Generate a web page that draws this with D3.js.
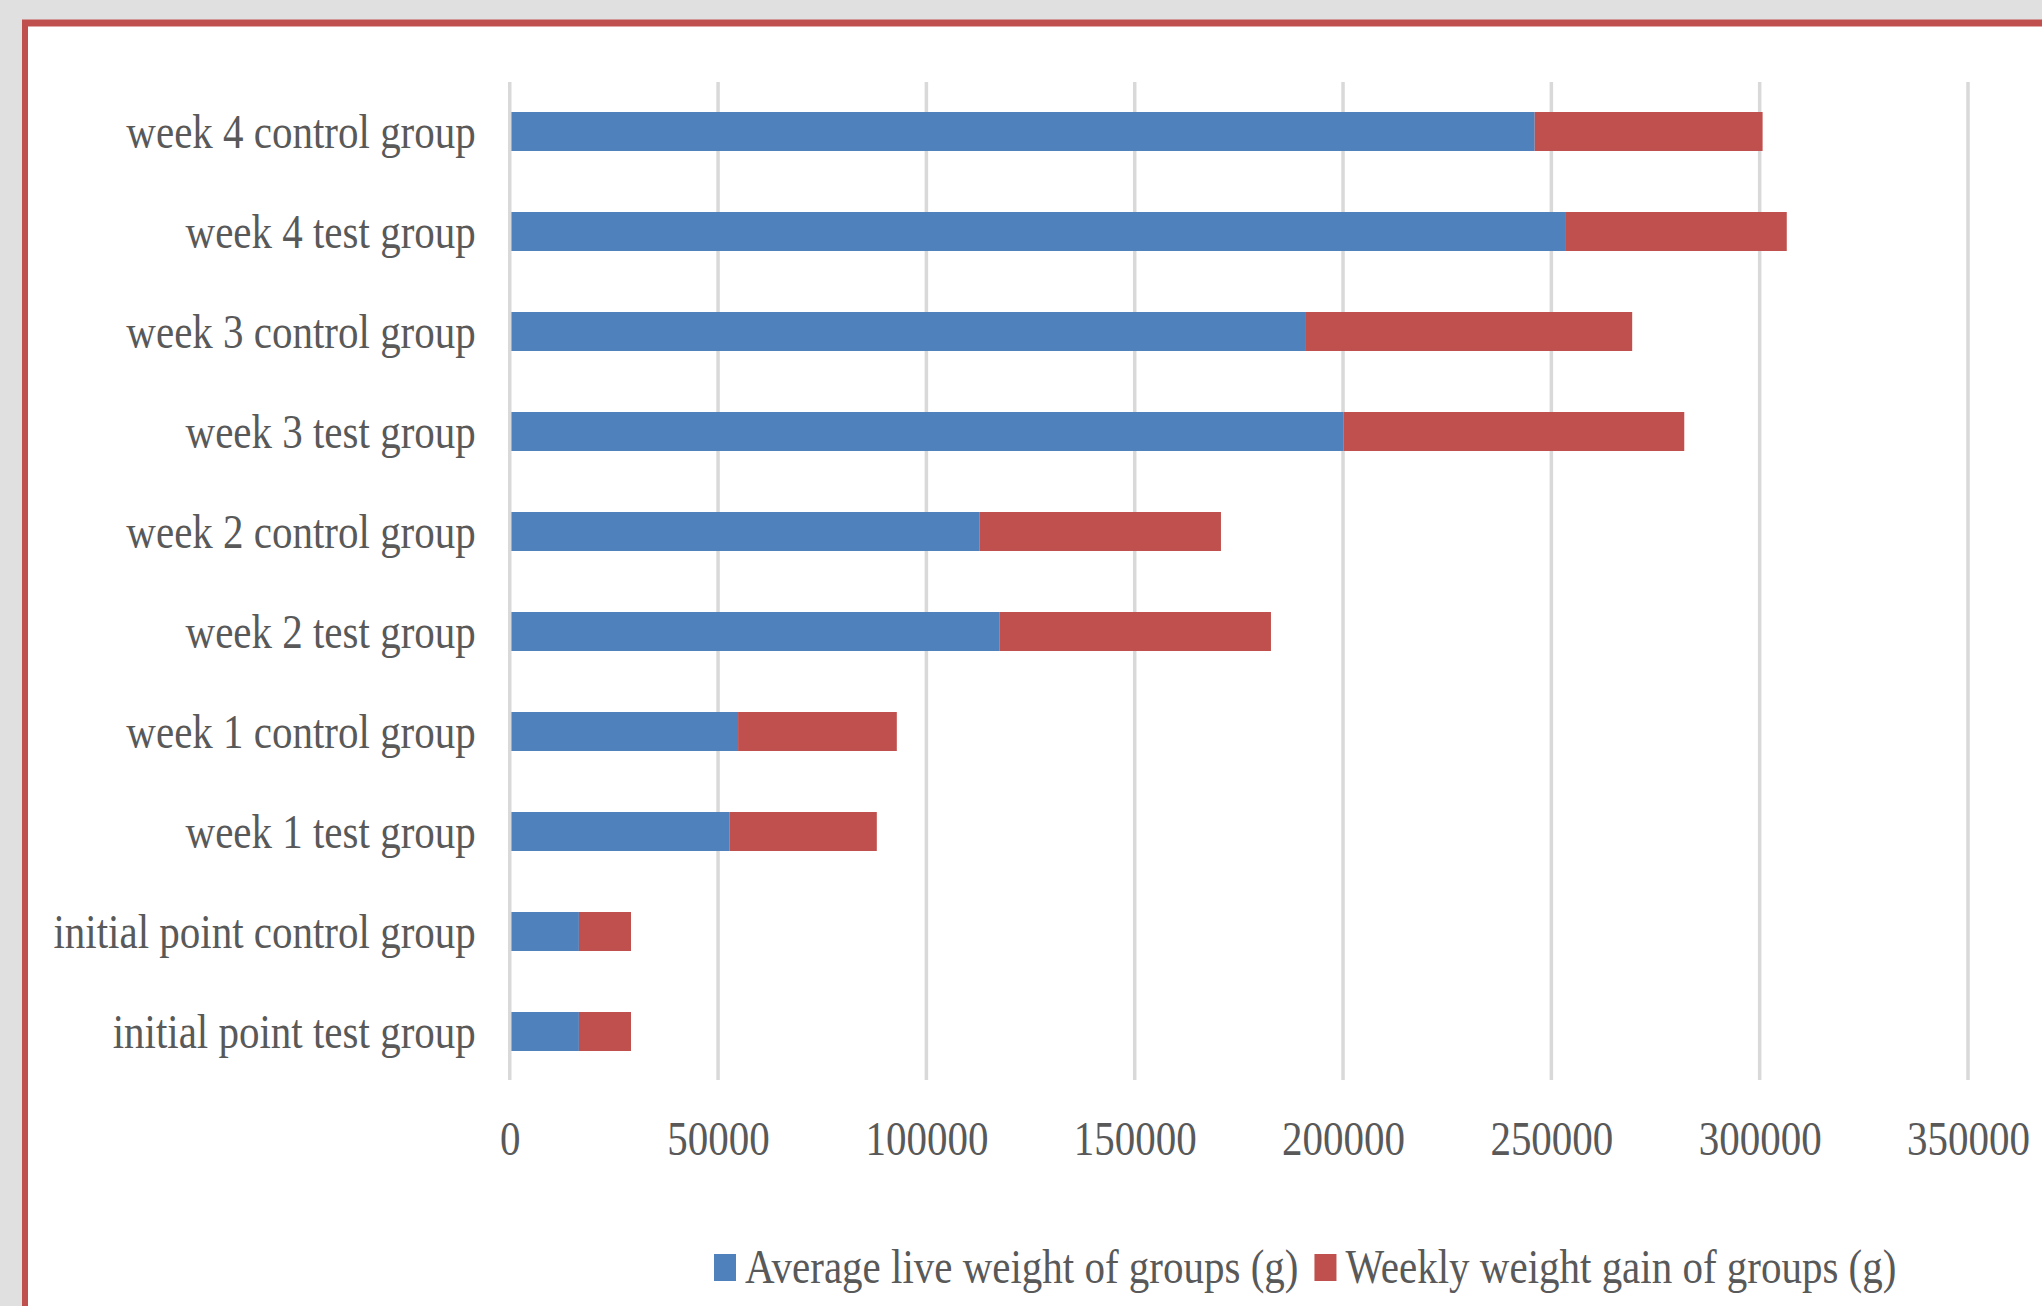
<!DOCTYPE html>
<html>
<head>
<meta charset="utf-8">
<script src="https://cdn.jsdelivr.net/npm/d3@7"></script>
<style>
  html, body { margin: 0; padding: 0; background: #e0e0e0; overflow: hidden; }
  text { font-family: "Liberation Serif", "Times New Roman", serif; font-size: 41px; fill: #595959; }
</style>
</head>
<body>
<svg id="chart" width="2042" height="1306"></svg>
<script>
// Groups, listed top to bottom
const categories = [
  "week 4 control group",
  "week 4 test group",
  "week 3 control group",
  "week 3 test group",
  "week 2 control group",
  "week 2 test group",
  "week 1 control group",
  "week 1 test group",
  "initial point control group",
  "initial point test group"
];

// Average live weight of groups (g)
const liveWeight = [246000, 253300, 191100, 200100, 112700, 117500, 54800, 52700, 16600, 16600];
// Weekly weight gain of groups (g)
const weeklyGain = [54700, 53200, 78300, 81800, 58000, 65200, 38100, 35400, 12500, 12500];

const xTicks = [0, 50000, 100000, 150000, 200000, 250000, 300000, 350000];
const seriesNames = ["Average live weight of groups (g)", "Weekly weight gain of groups (g)"];
const seriesKeys = ["live", "gain"];
const seriesColors = ["#4f81bd", "#c0504d"];

// Text in this chart is drawn tall and narrow
const SY = 1.2;

const svg = d3.select("#chart");

// Page frame: grey surround, red border, white chart area
svg.append("rect").attr("x", 0).attr("y", 0).attr("width", 2042).attr("height", 1306).attr("fill", "#e0e0e0");
svg.append("rect").attr("x", 22).attr("y", 19.5).attr("width", 2100).attr("height", 1400).attr("fill", "#c0504d");
svg.append("rect").attr("x", 28).attr("y", 26.5).attr("width", 2100).attr("height", 1400).attr("fill", "#ffffff");

const plot = { left: 509.75, right: 1968, top: 81.5, bottom: 1081.5 };

const x = d3.scaleLinear().domain([0, 350000]).range([plot.left, plot.right]);
const y = d3.scaleBand().domain(categories).range([plot.top, plot.bottom])
  .paddingInner(0.61).paddingOuter(0.305);

// Vertical gridlines
svg.append("g").selectAll("line")
  .data(xTicks.filter(d => d !== 0))
  .join("line")
  .attr("x1", d => x(d)).attr("x2", d => x(d))
  .attr("y1", 82).attr("y2", 1080)
  .attr("stroke", "#d9d9d9").attr("stroke-width", 3.5);

// Stacked bars
const rows = categories.map((c, i) => ({ cat: c, live: liveWeight[i], gain: weeklyGain[i] }));
const stacked = d3.stack().keys(seriesKeys)(rows);

svg.append("g").selectAll("g")
  .data(stacked)
  .join("g")
  .attr("fill", (d, i) => seriesColors[i])
  .selectAll("rect")
  .data(d => d)
  .join("rect")
  .attr("x", d => x(d[0]))
  .attr("width", d => x(d[1]) - x(d[0]))
  .attr("y", d => y(d.data.cat))
  .attr("height", y.bandwidth());

// Category axis line at zero
svg.append("line")
  .attr("x1", x(0)).attr("x2", x(0))
  .attr("y1", 82).attr("y2", 1080)
  .attr("stroke", "#d9d9d9").attr("stroke-width", 3.5);

// Value axis labels
const xAxis = svg.append("g")
  .attr("transform", `translate(0,${plot.bottom})`)
  .call(d3.axisBottom(x).tickValues(xTicks).tickSize(0).tickFormat(d3.format("d")));
xAxis.select(".domain").remove();
xAxis.attr("font-size", null).attr("font-family", null);
xAxis.selectAll("text")
  .attr("y", 73.5 / SY).attr("dy", null)
  .attr("transform", `scale(1,${SY})`)
  .style("fill", "#595959");

// Category labels
const yAxis = svg.append("g")
  .attr("transform", `translate(${plot.left},0)`)
  .call(d3.axisLeft(y).tickSize(0));
yAxis.select(".domain").remove();
yAxis.attr("font-size", null).attr("font-family", null);
yAxis.selectAll("text")
  .attr("x", -34).attr("y", 16 / SY).attr("dy", null)
  .attr("transform", `scale(1,${SY})`)
  .style("fill", "#595959");

// Legend
const legend = svg.append("g");
let lx = 714;
seriesNames.forEach((name, i) => {
  legend.append("rect")
    .attr("x", lx).attr("y", 1254)
    .attr("width", 22).attr("height", 27)
    .attr("fill", seriesColors[i]);
  const t = legend.append("text")
    .attr("transform", `translate(${lx + 31},1283) scale(1,${SY})`)
    .text(name);
  lx = lx + 31 + t.node().getComputedTextLength() + 16;
});
</script>
</body>
</html>
